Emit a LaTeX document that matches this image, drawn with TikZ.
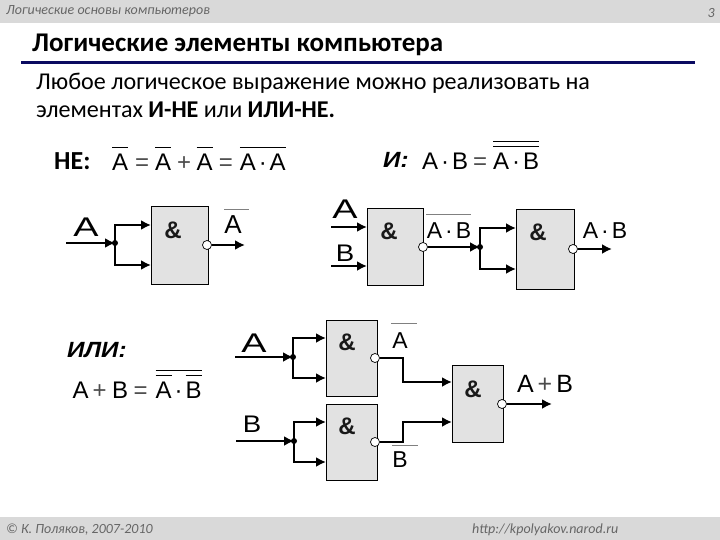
\documentclass[tikz,border=0pt]{standalone}
\usepackage{fontspec}
\setmainfont{Carlito}
\newfontfamily\arialf{Liberation Sans}
\usetikzlibrary{arrows.meta}
\definecolor{barcol}{HTML}{D9D9D9}
\definecolor{gatecol}{HTML}{E2E2E2}
\definecolor{rulecol}{HTML}{0A0A60}
\definecolor{overcol}{HTML}{808080}
\newcommand{\ovb}[2]{{\setbox0=\hbox{#2}\rlap{\raise#1pt\hbox to\wd0{\leaders\hrule height 0.9pt\hfill}}\box0}}
\newcommand{\sdot}{\kern3pt·\kern3pt}
\newcommand{\thn}[1]{\textcolor{black!70}{#1}}
\tikzset{
  gate/.style={draw=black,line width=0.9pt,fill=gatecol,anchor=north west,inner sep=0pt,outer sep=0pt},
  amp/.style={font=\arialf\bfseries\fontsize{24}{24}\selectfont,inner sep=0pt,text=black!90},
  wire/.style={line width=2.7pt,black,line join=miter},
  arrowwire/.style={wire,-{Latex[length=10pt,width=10pt]}},
  thinarrow/.style={line width=2.3pt,black,-{Latex[length=10pt,width=10pt]}},
  bubble/.style={circle,draw=black,line width=0.7pt,fill=white,minimum size=9pt,inner sep=0pt},
  dotj/.style={circle,fill=black,minimum size=6pt,inner sep=0pt},
  bar/.style={font=\itshape\fontsize{14}{14}\selectfont,text=black!60,inner sep=0pt},
  formula/.style={font=\arialf\fontsize{24}{24}\selectfont,inner sep=0pt,anchor=base west},
  biglabel/.style={font=\arialf\fontsize{23}{23}\selectfont,inner sep=0pt},
  widelabel/.style={font=\arialf\fontsize{27}{27}\selectfont,inner sep=0pt,xscale=1.4},
  tallb/.style={font=\arialf\fontsize{24}{24}\selectfont,inner sep=0pt,xscale=1.15},
  sigv/.style={font=\bfseries\fontsize{26}{26}\selectfont,inner sep=0pt,anchor=base west},
  sigi/.style={font=\arialf\bfseries\itshape\fontsize{22}{22}\selectfont,inner sep=0pt,anchor=base west,xscale=1.1},
  overline/.style={line width=0.8pt,overcol},
}
\begin{document}
\begin{tikzpicture}[x=1pt,y=-1pt]
\useasboundingbox (0,0) rectangle (720,540);
\fill[white] (0,0) rectangle (720,540);
\fill[barcol] (0,0) rectangle (720,23);
\fill[barcol] (0,517) rectangle (720,540);
\node[bar,anchor=base west] (hdr) at (6,15) {Логические основы компьютеров};
\node[bar,anchor=base east] (pg) at (715,18) {3};
\node[bar,anchor=base west] (ftl) at (6,533) {© К. Поляков, 2007-2010};
\node[bar,anchor=base west] (ftr) at (472,533) {http://kpolyakov.narod.ru};
\node[font=\bfseries\fontsize{27}{27}\selectfont,anchor=base west,inner sep=0pt] (title) at (32,52) {Логические элементы компьютера};
\draw[line width=2.6pt,rulecol] (21,62.5) coordinate (ra) -- (695,62.5) coordinate (rb);
\node[font=\fontsize{24.1}{24.1}\selectfont,anchor=base west,inner sep=0pt] (l1) at (36,90) {Любое логическое выражение можно реализовать на};
\node[font=\fontsize{24.1}{24.1}\selectfont,anchor=base west,inner sep=0pt] (l2) at (36,118) {элементах \textbf{И-НЕ} или \textbf{ИЛИ-НЕ.}};
% formulas
\node[sigv] (ne) at (54,170) {НЕ:};
\node[formula] (f1) at (112,171) {\ovb{23}{A}\kern7pt\thn{=}\kern6pt\ovb{23}{A}\kern6pt\thn{+}\kern5.5pt\ovb{23}{A}\kern6pt\thn{=}\kern7pt\ovb{23}{A\sdot A}};
\node[sigi] (ii) at (383,168) {И:};
\node[formula] (f2) at (422,170) {A\sdot B\kern5pt\thn{=}\kern6pt\ovb{28}{\ovb{23}{A\sdot B}}};
\node[sigi] (ili) at (67,357) {ИЛИ:};
\node[formula] (f3) at (72.5,398) {A\kern4pt\thn{+}\kern5.5pt B\kern5.5pt\thn{=}\kern8pt\ovb{27}{\ovb{22}{A}\sdot\ovb{22}{B}}};
% NOT gate
\node[gate,minimum width=57pt,minimum height=78pt] (g1) at (151,206) {};
\node[amp] (a1) at (173,230) {\&};
\coordinate (i1) at (66,243);
\coordinate (j1) at (115,243);
\coordinate (t1a) at (151,225);
\coordinate (t1b) at (151,265);
\node[widelabel] (la1) at (86,227) {A};
\draw[thinarrow] (i1) -- (j1);
\draw[arrowwire] (j1) |- (t1a);
\draw[arrowwire] (j1) |- (t1b);
\node[dotj] (d1) at (j1) {};
\node[bubble] (b1) at (207,245) {};
\coordinate (o1) at (245,245);
\draw[thinarrow] (b1) -- (o1);
\node[font=\arialf\fontsize{26}{26}\selectfont,inner sep=0pt] (n1) at (233,225) {A};
\draw[overline] (224,209) coordinate (n1a) -- (249,209) coordinate (n1b);
% AND gates
\node[gate,minimum width=56pt,minimum height=77pt] (g2) at (367,208) {};
\node[amp] (a2) at (389,231) {\&};
\coordinate (i2a) at (331,227);
\coordinate (i2b) at (331,266);
\coordinate (t2a) at (367,227);
\coordinate (t2b) at (367,266);
\draw[thinarrow] (i2a) -- (t2a);
\draw[thinarrow] (i2b) -- (t2b);
\node[widelabel] (la2) at (345,209) {A};
\node[tallb] (lb2) at (345,253) {B};
\node[bubble] (b2) at (423,247) {};
\coordinate (j2) at (480,247);
\draw[thinarrow] (b2) -- (j2);
\node[gate,minimum width=58pt,minimum height=80pt] (g3) at (516,209) {};
\node[amp] (a3) at (538,232) {\&};
\coordinate (t3a) at (516,228);
\coordinate (t3b) at (516,269);
\draw[arrowwire] (j2) |- (t3a);
\draw[arrowwire] (j2) |- (t3b);
\node[dotj] (d2) at (j2) {};
\node[bubble] (b3) at (573,249) {};
\coordinate (o3) at (612,249);
\draw[thinarrow] (b3) -- (o3);
\node[biglabel] (n2) at (449,231) {A\sdot B};
\draw[overline] (426,214) coordinate (n2a) -- (471,214) coordinate (n2b);
\node[biglabel] (n3) at (605,231) {A\sdot B};
% OR gates
\node[gate,minimum width=51pt,minimum height=76pt] (g4) at (326,320) {};
\node[amp] (a4) at (347,342) {\&};
\coordinate (i4) at (235,357);
\coordinate (j4) at (293,357);
\coordinate (t4a) at (326,338);
\coordinate (t4b) at (326,378);
\node[widelabel] (la4) at (254,343) {A};
\draw[thinarrow] (i4) -- (j4);
\draw[arrowwire] (j4) |- (t4a);
\draw[arrowwire] (j4) |- (t4b);
\node[dotj] (d4) at (j4) {};
\node[gate,minimum width=51pt,minimum height=76pt] (g5) at (326,404) {};
\node[amp] (a5) at (347,426) {\&};
\coordinate (i5) at (236,441);
\coordinate (j5) at (294,441);
\coordinate (t5a) at (326,422);
\coordinate (t5b) at (326,462);
\node[tallb] (lb5) at (252,424) {B};
\draw[thinarrow] (i5) -- (j5);
\draw[arrowwire] (j5) |- (t5a);
\draw[arrowwire] (j5) |- (t5b);
\node[dotj] (d5) at (j5) {};
\node[gate,minimum width=51pt,minimum height=77pt] (g6) at (452,365) {};
\node[amp] (a6) at (473,389) {\&};
\coordinate (t6a) at (452,382);
\coordinate (t6b) at (452,422);
\coordinate (k4) at (403,358);
\coordinate (k5) at (403,442);
\node[bubble] (b4) at (375,358) {};
\node[bubble] (b5) at (375,442) {};
\draw[arrowwire] (b4) -- (k4) |- (t6a);
\draw[arrowwire] (b5) -- (k5) |- (t6b);
\node[bubble] (b6) at (502,404) {};
\coordinate (o6) at (552,404);
\draw[thinarrow] (b6) -- (o6);
\node[biglabel] (n4) at (400,341) {A};
\draw[overline] (391,323) coordinate (n4a) -- (417,323) coordinate (n4b);
\node[biglabel] (n5) at (400,460) {B};
\draw[overline] (392,445) coordinate (n5a) -- (418,445) coordinate (n5b);
\node[font=\arialf\fontsize{25}{25}\selectfont,inner sep=0pt] (n6) at (545,384) {A\kern4pt\thn{+}\kern4pt B};
\end{tikzpicture}
\end{document}
